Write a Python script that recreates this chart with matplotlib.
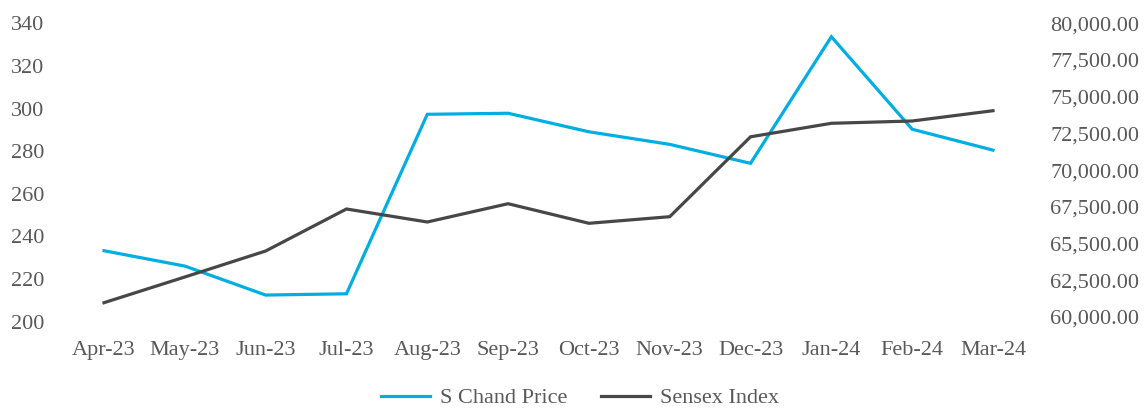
import matplotlib
matplotlib.use("Agg")
import matplotlib.pyplot as plt

months = ["Apr-23", "May-23", "Jun-23", "Jul-23", "Aug-23", "Sep-23",
          "Oct-23", "Nov-23", "Dec-23", "Jan-24", "Feb-24", "Mar-24"]
schand_price = [233.3, 226.1, 212.5, 213.1, 297.3, 297.8,
                289.1, 283.2, 274.3, 333.7, 290.3, 280.5]
sensex_index = [60974, 62724, 64494, 67355, 66469, 67715,
                66381, 66830, 72271, 73190, 73347, 74048]
left_ticks = [200, 220, 240, 260, 280, 300, 320, 340]
right_ticks = [60000, 62500, 65000, 67500, 70000, 72500, 75000, 77500, 80000]
right_labels = ["60,000.00", "62,500.00", "65,500.00", "67,500.00", "70,000.00",
                "72,500.00", "75,000.00", "77,500.00", "80,000.00"]

plt.rcParams['font.family'] = ['Liberation Serif', 'DejaVu Serif']
FS = 16
TXT = '#595959'
BLUE = '#00AEE2'
DARK = '#474747'

fig = plt.figure(figsize=(11.45, 4.08), dpi=100)
ax = fig.add_axes([63.6/1145, 1-321.7/408, (1033.4-63.6)/1145, (321.7-23.3)/408])
ax2 = ax.twinx()

x = list(range(len(months)))
l1, = ax.plot(x, schand_price, color=BLUE, lw=2.3, solid_joinstyle='miter', label='S Chand Price')
l2, = ax2.plot(x, sensex_index, color=DARK, lw=2.3, solid_joinstyle='miter', label='Sensex Index')

ax.set_xlim(-0.5, len(months)-0.5)
ax.set_ylim(200, 340)
ax.set_yticks(left_ticks)
ax.set_yticklabels([str(v) for v in left_ticks])
ax2.set_ylim(59680, 80000)
ax2.set_yticks(right_ticks)
ax2.set_yticklabels(right_labels)
ax.set_xticks(x)
ax.set_xticklabels(months)

for a in (ax, ax2):
    for s in a.spines.values():
        s.set_visible(False)
ax.tick_params(axis='x', length=0, pad=14, labelsize=FS, labelcolor=TXT)
ax.tick_params(axis='y', length=0, pad=14, labelsize=FS, labelcolor=TXT)
ax2.tick_params(axis='y', length=0, pad=12, labelsize=FS, labelcolor=TXT)

leg = fig.legend(handles=[l1, l2], loc='center', bbox_to_anchor=(580/1145, 1-398/408),
                 ncol=2, frameon=False, fontsize=FS, handlelength=2.2,
                 handletextpad=0.45, columnspacing=1.5, borderaxespad=0, borderpad=0)
for t in leg.get_texts():
    t.set_color(TXT)

fig.savefig("out.png", dpi=100)
